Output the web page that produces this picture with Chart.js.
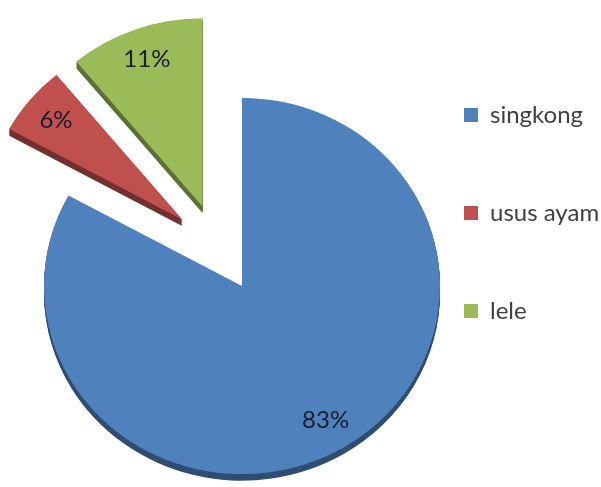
<!DOCTYPE html>
<html>
<head>
<meta charset="utf-8">
<script src="https://cdn.jsdelivr.net/npm/chart.js@4.4.0/dist/chart.umd.min.js"></script>
<style>
  html, body { margin: 0; padding: 0; background: #fff; }
  canvas { display: block; }
</style>
</head>
<body>
<canvas id="pieChart" width="601" height="487"></canvas>
<script>
// data
const categories = ["singkong", "usus ayam", "lele"];
const percents = [83, 6, 11];

// look
const sliceColors = ["#4f81bd", "#c0504d", "#9bbb59"];
// exploded slices move partly along their own middle, partly together as a group
const explodeOwn = [0, 46, 46];
const explodeGroup = [0, 47, 47];
const labelRadius = 0.83;
const pieCenter = { x: 242, y: 286 };
const tilt = 0.95;                // squash for the 3d look
const depth = 7;

function baseCenter(chart) {
    const a = chart.chartArea;
    return { x: (a.left + a.right) / 2, y: (a.top + a.bottom) / 2 };
}
function applyTilt(ctx, chart) {
    const c = baseCenter(chart);
    ctx.translate(pieCenter.x, pieCenter.y);
    ctx.scale(1, tilt);
    ctx.translate(-c.x, -c.y);
}
function toScreen(chart, x, y) {
    const c = baseCenter(chart);
    return { x: pieCenter.x + (x - c.x), y: pieCenter.y + (y - c.y) * tilt };
}

const pie3d = {
    id: "pie3d",
    afterDatasetsUpdate(chart) {
        const arcs = chart.getDatasetMeta(0).data;
        const grouped = arcs.filter((a, i) => explodeGroup[i] > 0);
        const gStart = Math.min(...grouped.map(a => a.startAngle));
        const gEnd = Math.max(...grouped.map(a => a.endAngle));
        const gMid = (gStart + gEnd) / 2;
        arcs.forEach((arc, i) => {
            const mid = (arc.startAngle + arc.endAngle) / 2;
            arc.x += Math.cos(mid) * explodeOwn[i] + Math.cos(gMid) * explodeGroup[i];
            arc.y += Math.sin(mid) * explodeOwn[i] + Math.sin(gMid) * explodeGroup[i];
        });
    },
    beforeDatasetsDraw(chart) {
        const ctx = chart.ctx;
        ctx.save();
        applyTilt(ctx, chart);
        // side walls: darker copies stacked below each slice
        const arcs = chart.getDatasetMeta(0).data;
        const steps = Math.round(depth / tilt);
        for (let s = steps; s >= 1; s--) {
            arcs.forEach(arc => {
                ctx.save();
                ctx.translate(0, s);
                ctx.filter = "brightness(0.6)";
                arc.draw(ctx);
                ctx.restore();
            });
        }
    },
    afterDatasetsDraw(chart) {
        const ctx = chart.ctx;
        ctx.restore();
        // percent labels
        const total = percents.reduce((a, b) => a + b, 0);
        ctx.save();
        ctx.font = "24px Lato";
        ctx.fillStyle = "#1a1d2b";
        ctx.textAlign = "center";
        ctx.textBaseline = "middle";
        chart.getDatasetMeta(0).data.forEach((arc, i) => {
            const mid = (arc.startAngle + arc.endAngle) / 2;
            const r = arc.outerRadius * labelRadius;
            const p = toScreen(chart, arc.x + Math.cos(mid) * r, arc.y + Math.sin(mid) * r);
            ctx.fillText(Math.round(percents[i] / total * 100) + "%", p.x, p.y);
        });
        ctx.restore();
    }
};

const ctx = document.getElementById("pieChart").getContext("2d");
const pieChart = new Chart(ctx, {
    type: "pie",
    data: {
        labels: categories,
        datasets: [{
            data: percents,
            backgroundColor: sliceColors,
            borderWidth: 0,
            radius: 198,
            clip: false
        }]
    },
    options: {
        responsive: false,
        animation: false,
        events: [],
        layout: { padding: { bottom: 61 } },
        plugins: {
            legend: {
                position: "right",
                maxWidth: 211,
                labels: {
                    boxWidth: 14,
                    boxHeight: 14,
                    padding: 74,
                    color: "#404040",
                    font: { family: "Lato", size: 24 }
                }
            },
            tooltip: { enabled: false }
        }
    },
    plugins: [pie3d]
});
</script>
</body>
</html>
